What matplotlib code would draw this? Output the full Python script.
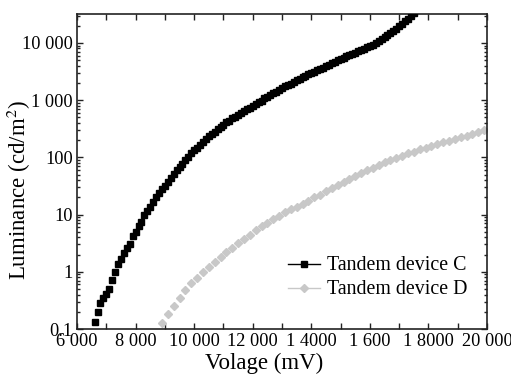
import numpy as np
import matplotlib
matplotlib.use("Agg")
import matplotlib.pyplot as plt
from matplotlib.lines import Line2D
from matplotlib.ticker import FixedLocator, MultipleLocator, LogLocator, NullFormatter

plt.rcParams['font.family'] = ['Liberation Serif', 'DejaVu Serif']
plt.rcParams['mathtext.fontset'] = 'stix'

# Tandem device C: voltage (mV) sampled every 100 mV from 6600 mV
volt_c = np.arange(6600, 17600, 100)
lum_c = [0.135, 0.20, 0.28, 0.35, 0.41, 0.50, 0.71, 1.0, 1.35, 1.7,
         2.1, 2.6, 3.1, 4.2, 5.0, 6.2, 7.4, 10, 11.7, 13.5,
         16.5, 20, 23.5, 27.5,
         31.6, 37.2, 43.7, 51.3, 58.9, 67.6, 77.6, 89.1, 102, 117,
         132, 148, 166, 186, 209, 234, 257, 282, 309, 339,
         372, 407, 437, 479, 513, 550, 589, 646, 692, 741,
         794, 851, 912, 977, 1072, 1148, 1230, 1318, 1413, 1514,
         1622, 1738, 1862, 1950, 2089, 2239, 2344, 2512, 2630, 2818,
         2951, 3162, 3311, 3548, 3715, 3981, 4169, 4467, 4677, 5012,
         5248, 5495, 5888, 6166, 6457, 6761, 7079, 7586, 7943, 8318,
         8710, 9333, 10000, 10720, 11750, 12590, 13800, 15140, 16220, 17780,
         19500, 21380, 23990, 26300, 29510, 33110]

# Tandem device D: voltage (mV) sampled every 200 mV from 8900 mV
volt_d = np.arange(8900, 20000, 200)
lum_d = [0.126, 0.182, 0.251, 0.355, 0.490, 0.631, 0.794, 1.00, 1.23, 1.51,
         1.82, 2.19, 2.63, 3.16, 3.80, 4.47, 5.37, 6.31, 7.24, 8.32,
         9.55, 11.0, 12.3, 13.8, 15.5, 17.4, 20.0, 22.4, 25.7, 29.5,
         33.1, 37.2, 41.7, 46.8, 52.5, 58.9, 66.1, 74.1, 81.3, 89.1,
         97.7, 107, 117, 126, 138, 148, 158, 170, 182, 195,
         209, 224, 240, 257, 275, 295]

x_ticks = [6000, 8000, 10000, 12000, 14000, 16000, 18000, 20000]
x_labels = ['6 000', '8 000', '10 000', '12 000', '1 4000', '1 600', '1 8000', '20 000']
y_ticks = [0.1, 1, 10, 100, 1000, 10000]
y_labels = ['0.1', '1', '10', '100', '1 000', '10 000']

fig = plt.figure(figsize=(5.11, 3.76), dpi=100)
ax = fig.add_axes([77 / 511, 1 - 329 / 376, 410 / 511, 315 / 376])

ax.plot(volt_c, lum_c, linestyle='none', marker='s', ms=4.2,
        color='black', mec='black', zorder=3)
ax.plot(volt_d, lum_d, linestyle='none', marker='D', ms=3.6,
        color='#c8c8c8', mec='#c8c8c8', zorder=2)

ax.set_yscale('log')
ax.set_xlim(6000, 20000)
ax.set_ylim(0.1, 32000)

ax.xaxis.set_major_locator(FixedLocator(x_ticks))
ax.set_xticklabels(x_labels)
ax.xaxis.set_minor_locator(MultipleLocator(1000))
ax.yaxis.set_major_locator(FixedLocator(y_ticks))
ax.set_yticklabels(y_labels)
ax.yaxis.set_minor_locator(LogLocator(base=10, subs=np.arange(2, 10)))
ax.yaxis.set_minor_formatter(NullFormatter())

ax.tick_params(which='both', direction='in', top=True, right=True,
               labelsize=13.2, width=1, color='#222222')
ax.tick_params(which='major', length=4, pad=3)
ax.tick_params(axis='x', which='minor', length=4)
ax.tick_params(axis='y', which='minor', length=2.5)

for s in ax.spines.values():
    s.set_linewidth(1.2)
    s.set_color('#222222')

ax.set_xlabel('Volage (mV)', fontsize=16.5)
ax.xaxis.set_label_coords(0.456, -0.075)
ax.set_ylabel('Luminance (cd/m$^2$)', fontsize=16.5)
ax.yaxis.set_label_coords(-0.108, 0.44)

handles = [Line2D([], [], color='black', lw=1, marker='s', ms=4.0),
           Line2D([], [], color='#c8c8c8', lw=1, marker='D', ms=3.6)]
ax.legend(handles, ['Tandem device C', 'Tandem device D'], loc='center left',
          bbox_to_anchor=(0.515, 0.162), borderaxespad=0, borderpad=0,
          frameon=False, fontsize=14.3,
          handlelength=1.6, handletextpad=0.35, labelspacing=0.25)

fig.savefig('out.png', dpi=100)
